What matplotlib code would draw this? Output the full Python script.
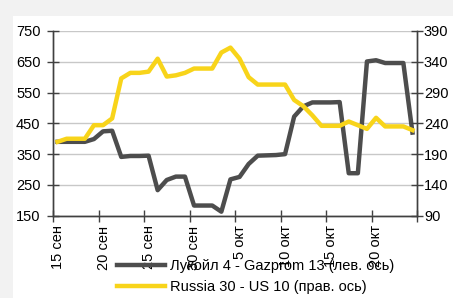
import matplotlib.pyplot as plt
from matplotlib.patches import Rectangle
from matplotlib.transforms import ScaledTranslation

plt.rcParams["font.family"] = ["Liberation Sans", "DejaVu Sans"]

# ---------------------------------
# Data (daily, 15 Sep - 24 Oct)
# ---------------------------------

lukoil_gazprom = [390, 390, 390, 390, 399, 424, 426, 341, 344, 344,
                  345, 233, 266, 277, 277, 183, 183, 183, 163, 268,
                  276, 318, 345, 346, 347, 350, 472, 505, 518, 518,
                  518, 519, 288, 288, 651, 655, 646, 646, 646, 420]

russia_us = [210, 215, 215, 215, 237, 237, 248, 313, 322, 322,
             324, 345, 316, 318, 322, 329, 329, 329, 355, 363,
             345, 315, 303, 303, 303, 303, 278, 268, 253, 236,
             236, 236, 243, 237, 231, 249, 235, 235, 235, 229]

tick_labels = ["15 сен", "20 сен", "25 сен", "30 сен",
               "5 окт", "10 окт", "15 окт", "20 окт", ""]

left_ticks = [150, 250, 350, 450, 550, 650, 750]
right_ticks = [90, 140, 190, 240, 290, 340, 390]

days = list(range(len(lukoil_gazprom)))

# ---------------------------------
# Figure
# ---------------------------------

fig = plt.figure(figsize=(4.53, 2.98), dpi=100, facecolor="#f2f2f2")
fig.patches.append(Rectangle((13 / 453, 0), 1, 1 - 16 / 298,
                             transform=fig.transFigure,
                             facecolor="white", edgecolor="none", zorder=-5))

# title sits mostly above the picture, only its lower edge shows
fig.text(50 / 453, 1 + 6.5 / 298, "Динамика спредов", fontsize=24,
         fontweight="bold", va="baseline", ha="left", color="black")

ax = fig.add_axes([53 / 453, 1 - 215.7 / 298, 364 / 453, 184.7 / 298])
ax.set_facecolor("none")

ax.plot(days, lukoil_gazprom, color="#4d4d4d", lw=3.2,
        label="Лукойл 4 - Gazprom 13 (лев. ось)", zorder=3)

ax2 = ax.twinx()
ax2.plot(days, russia_us, color="#f8d41a", lw=3.2,
         label="Russia 30 - US 10 (прав. ось)", zorder=3)

ax.set_xlim(-0.5, len(days) - 0.5)
ax.set_ylim(150, 750)
ax2.set_ylim(90, 390)
ax.set_yticks(left_ticks)
ax2.set_yticks(right_ticks)

ax.set_xticks([-0.5 + 5 * k for k in range(len(tick_labels))])
ax.set_xticklabels(tick_labels, rotation=90, va="top", ha="center")

ax.grid(axis="y", color="#c8c8c8", lw=1)
ax.set_axisbelow(True)

for a in (ax, ax2):
    a.spines["top"].set_visible(False)
    for s in ("left", "right", "bottom"):
        a.spines[s].set_color("#404040")
        a.spines[s].set_linewidth(1)

ax.tick_params(axis="y", direction="inout", length=8, width=1,
               color="#404040", labelsize=10.5, pad=5)
ax.tick_params(axis="x", direction="inout", length=8, width=1,
               color="#404040", labelsize=10.5, pad=3)
ax2.tick_params(axis="y", direction="inout", length=8, width=1,
                color="#404040", labelsize=10.5, pad=1)

for lbl in ax.get_xticklabels():
    lbl.set_transform(lbl.get_transform() +
                      ScaledTranslation(5 / 100, 0, fig.dpi_scale_trans))

# ---------------------------------
# Legend
# ---------------------------------

h1, l1 = ax.get_legend_handles_labels()
h2, l2 = ax2.get_legend_handles_labels()
fig.legend(h1 + h2, l1 + l2, loc="center left",
           bbox_to_anchor=(117 / 453, 1 - 276.5 / 298),
           frameon=False, fontsize=10.5, borderpad=0, borderaxespad=0,
           handlelength=3.3, handletextpad=0.3, labelspacing=0.45)

fig.savefig("out.png", dpi=100, facecolor=fig.get_facecolor())
